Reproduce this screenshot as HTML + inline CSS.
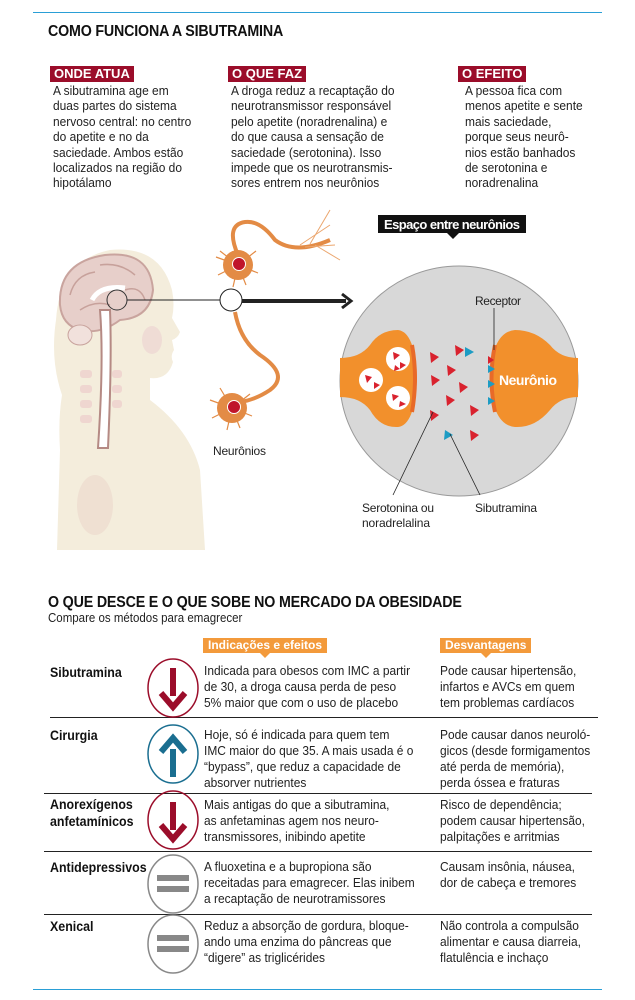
<!DOCTYPE html>
<html><head><meta charset="utf-8"><style>
body{margin:0;width:635px;height:1000px;background:#fff;position:relative;overflow:hidden;font-family:"Liberation Sans Narrow","Liberation Sans",sans-serif;color:#222}
.a{position:absolute;white-space:nowrap}
.n{transform:scaleX(0.92);transform-origin:0 0}
.t{font-size:13px;line-height:15.4px}
.h{font-weight:bold;font-size:15.5px;letter-spacing:-0.2px;color:#111}
.lab{position:absolute;background:#9b0d2a;color:#fff;font-weight:bold;font-size:13px;line-height:16px;padding:0 4px}
.ob{position:absolute;background:#f39a3b;color:#fff;font-weight:bold;font-size:12px;line-height:15px;padding:0 5px}
.ob:after{content:"";position:absolute;left:50%;bottom:-5px;margin-left:-5px;border-left:5px solid transparent;border-right:5px solid transparent;border-top:5px solid #f39a3b}
.rt{font-size:13px;line-height:16px}
.nm{font-weight:bold;font-size:13.5px;line-height:17px;color:#111}
.sep{position:absolute;left:50px;width:548px;height:1px;background:#222}
</style></head><body>
<div class="a" style="left:33px;top:12px;width:569px;height:1px;background:#2a9fd6"></div>
<div class="a h n" style="left:48px;top:23px">COMO FUNCIONA A SIBUTRAMINA</div>
<div class="lab" style="left:50px;top:66px">ONDE ATUA</div>
<div class="lab" style="left:228px;top:66px">O QUE FAZ</div>
<div class="lab" style="left:458px;top:66px">O EFEITO</div>
<div class="a t n" style="left:53px;top:83px">A sibutramina age em<br>duas partes do sistema<br>nervoso central: no centro<br>do apetite e no da<br>saciedade. Ambos estão<br>localizados na região do<br>hipotálamo</div>
<div class="a t n" style="left:231px;top:83px">A droga reduz a recaptação do<br>neurotransmissor responsável<br>pelo apetite (noradrenalina) e<br>do que causa a sensação de<br>saciedade (serotonina). Isso<br>impede que os neurotransmis-<br>sores entrem nos neurônios</div>
<div class="a t n" style="left:465px;top:83px">A pessoa fica com<br>menos apetite e sente<br>mais saciedade,<br>porque seus neurô-<br>nios estão banhados<br>de serotonina e<br>noradrenalina</div>

<svg class="a" style="left:0;top:200px" width="635" height="350" viewBox="0 200 635 350">
<path d="M57 550 L60 450 Q58 420 62 395 Q50 360 56 320 Q60 260 110 250 Q160 245 172 290 Q175 305 172 318 L180 332 Q178 338 172 340 L174 350 Q170 356 173 362 Q168 380 150 378 L150 400 Q190 430 200 470 L205 550 Z" fill="#f4eddc"/>
<ellipse cx="95" cy="505" rx="18" ry="30" fill="#efe0d2"/>
<ellipse cx="152" cy="340" rx="10" ry="14" fill="#efdcd5"/>
<path d="M60 305 Q58 262 105 255 Q150 250 153 290 Q150 318 120 320 Q100 335 80 330 Q62 325 60 305Z" fill="#e7cfca" stroke="#c9a49e" stroke-width="2"/>
<path d="M70 295 Q75 275 95 272 M100 265 Q120 262 135 275 M80 310 Q95 300 110 305 M125 290 Q140 285 145 300" stroke="#c7a19b" stroke-width="1.5" fill="none"/>
<path d="M92 300 Q100 285 125 288" stroke="#fff" stroke-width="5" fill="none"/>
<ellipse cx="80" cy="335" rx="12" ry="10" fill="#f1e1dc" stroke="#c9a49e"/>
<path d="M100 310 Q104 360 98 448 L108 448 Q112 360 110 310Z" fill="#fff" stroke="#b58a84" stroke-width="2"/>
<g fill="#efd6d0"><rect x="80" y="370" width="12" height="8" rx="3"/><rect x="80" y="385" width="12" height="8" rx="3"/><rect x="80" y="400" width="12" height="8" rx="3"/><rect x="80" y="415" width="12" height="8" rx="3"/><rect x="112" y="370" width="10" height="8" rx="3"/><rect x="112" y="385" width="10" height="8" rx="3"/><rect x="112" y="400" width="10" height="8" rx="3"/></g>
<circle cx="117" cy="300" r="10" fill="none" stroke="#333" stroke-width="1"/>
<line x1="127" y1="300" x2="220" y2="300" stroke="#222" stroke-width="1"/>
<path d="M238 255 Q225 225 245 222 Q260 220 275 240 Q295 255 330 240" stroke="#e38b45" stroke-width="4" fill="none"/>
<path d="M300 245 L330 225 M305 247 L335 245 M310 244 L330 210 M315 245 L340 260" stroke="#eba66e" stroke-width="1" fill="none"/>
<path d="M235 312 Q240 340 260 355 Q290 375 270 390 Q255 400 240 402" stroke="#e38b45" stroke-width="4" fill="none"/>
<g stroke="#e38b45" stroke-width="1.2">
<path d="M238 265 l-22 -8 M238 265 l-20 10 M238 265 l18 -14 M238 265 l20 8 M238 265 l-5 22 M238 265 l8 20 M238 265 l-18 -14"/>
<path d="M232 408 l-22 -8 M232 408 l-20 10 M232 408 l18 -14 M232 408 l20 8 M232 408 l-5 22 M232 408 l8 20 M232 408 l-12 -20"/></g>
<circle cx="238" cy="265" r="15" fill="#e38b45"/><circle cx="239" cy="264" r="6.5" fill="#c0152b" stroke="#fff" stroke-width="1"/>
<circle cx="232" cy="408" r="15" fill="#e38b45"/><circle cx="234" cy="407" r="6.5" fill="#c0152b" stroke="#fff" stroke-width="1"/>
<circle cx="231" cy="300" r="11" fill="#fff" stroke="#222" stroke-width="1"/>
<line x1="242" y1="301" x2="346" y2="301" stroke="#222" stroke-width="4"/>
<path d="M342 294 L351 301 L342 308" stroke="#222" stroke-width="3" fill="none"/>
<text x="213" y="455" font-size="12" fill="#222" textLength="53">Neurônios</text>
<ellipse cx="459" cy="381" rx="119" ry="115" fill="#d8d8d8" stroke="#999" stroke-width="1"/>
<path d="M340 358 Q360 358 370 345 Q380 330 398 330 Q415 332 417 378 Q415 425 398 427 Q380 428 370 410 Q360 397 340 397Z" fill="#f2902c"/>
<path d="M578 358 Q560 358 550 345 Q535 330 515 330 Q492 332 490 378 Q492 425 515 427 Q535 428 550 410 Q560 397 578 397Z" fill="#f2902c"/>
<path d="M412 345 Q418 378 412 412" stroke="#e86a28" stroke-width="4" fill="none"/>
<path d="M495 345 Q488 378 495 412" stroke="#e86a28" stroke-width="4" fill="none"/>
<g fill="#fff"><circle cx="398" cy="359" r="12"/><circle cx="371" cy="380" r="12"/><circle cx="398" cy="398" r="12"/></g>
<g fill="#d9222e">
<path d="M393 352l7 3-6 5z M400 362l6 3-6 4z M365 375l7 2-5 6z M374 382l6 3-6 4z M392 394l7 2-6 5z M400 401l6 3-7 3z M395 365l5 4-6 2z"/>
<path d="M455 345l9 5-8 6z M430 352l9 5-8 6z M447 365l9 5-8 6z M431 375l9 5-8 6z M459 382l9 5-8 6z M446 395l9 5-8 6z M430 410l9 5-8 6z M470 405l9 5-8 6z M470 430l9 5-8 6z M488 356l6 4-6 4z"/></g>
<g fill="#1d9cc4"><path d="M465 347l9 5-9 5z M488 365l7 4-7 4z M488 380l7 4-7 4z M488 397l7 4-7 4z M445 430l8 5-9 5z"/></g>
<text x="528" y="385" font-size="14" font-weight="bold" fill="#fff" text-anchor="middle" textLength="58">Neurônio</text>
<line x1="494" y1="308" x2="494" y2="350" stroke="#222" stroke-width="0.8"/>
<text x="475" y="305" font-size="12" fill="#222" textLength="46">Receptor</text>
<line x1="393" y1="495" x2="433" y2="412" stroke="#222" stroke-width="0.8"/>
<line x1="480" y1="495" x2="450" y2="434" stroke="#222" stroke-width="0.8"/>
<text x="362" y="512" font-size="12" fill="#222" textLength="72">Serotonina ou</text>
<text x="362" y="527" font-size="12" fill="#222" textLength="68">noradrelalina</text>
<text x="475" y="512" font-size="12" fill="#222" textLength="62">Sibutramina</text>
<rect x="378" y="215" width="148" height="18" fill="#111"/>
<path d="M447 233 L453 239 L459 233Z" fill="#111"/>
<text x="452" y="229" font-size="13" font-weight="bold" fill="#fff" text-anchor="middle" textLength="136">Espaço entre neurônios</text>
</svg>

<div class="a h n" style="left:48px;top:594px">O QUE DESCE E O QUE SOBE NO MERCADO DA OBESIDADE</div>
<div class="a n" style="left:48px;top:611px;font-size:12.5px">Compare os métodos para emagrecer</div>
<div class="ob" style="left:203px;top:638px">Indicações e efeitos</div>
<div class="ob" style="left:440px;top:638px">Desvantagens</div>

<div class="a nm n" style="left:50px;top:664px">Sibutramina</div>
<div class="a rt n" style="left:204px;top:663px">Indicada para obesos com IMC a partir<br>de 30, a droga causa perda de peso<br>5% maior que com o uso de placebo</div>
<div class="a rt n" style="left:440px;top:663px">Pode causar hipertensão,<br>infartos e AVCs em quem<br>tem problemas cardíacos</div>
<div class="sep" style="top:717px"></div>
<div class="a nm n" style="left:50px;top:727px">Cirurgia</div>
<div class="a rt n" style="left:204px;top:727px">Hoje, só é indicada para quem tem<br>IMC maior do que 35. A mais usada é o<br>“bypass”, que reduz a capacidade de<br>absorver nutrientes</div>
<div class="a rt n" style="left:440px;top:727px">Pode causar danos neuroló-<br>gicos (desde formigamentos<br>até perda de memória),<br>perda óssea e fraturas</div>
<div class="sep" style="top:793px;left:44px;width:548px"></div>
<div class="a nm n" style="left:50px;top:796px">Anorexígenos<br>anfetamínicos</div>
<div class="a rt n" style="left:204px;top:797px">Mais antigas do que a sibutramina,<br>as anfetaminas agem nos neuro-<br>transmissores, inibindo apetite</div>
<div class="a rt n" style="left:440px;top:797px">Risco de dependência;<br>podem causar hipertensão,<br>palpitações e arritmias</div>
<div class="sep" style="top:851px;left:44px;width:548px"></div>
<div class="a nm n" style="left:50px;top:859px">Antidepressivos</div>
<div class="a rt n" style="left:204px;top:859px">A fluoxetina e a bupropiona são<br>receitadas para emagrecer. Elas inibem<br>a recaptação de neurotramissores</div>
<div class="a rt n" style="left:440px;top:859px">Causam insônia, náusea,<br>dor de cabeça e tremores</div>
<div class="sep" style="top:914px;left:44px;width:548px"></div>
<div class="a nm n" style="left:50px;top:918px">Xenical</div>
<div class="a rt n" style="left:204px;top:918px">Reduz a absorção de gordura, bloque-<br>ando uma enzima do pâncreas que<br>“digere” as triglicérides</div>
<div class="a rt n" style="left:440px;top:918px">Não controla a compulsão<br>alimentar e causa diarreia,<br>flatulência e inchaço</div>

<svg class="a" style="left:0;top:0" width="635" height="1000">
<g fill="none" stroke-width="1.5">
<ellipse cx="173" cy="688" rx="25" ry="29" stroke="#9b0d2a"/>
<ellipse cx="173" cy="754" rx="25" ry="29" stroke="#1a6e90"/>
<ellipse cx="173" cy="820" rx="25" ry="29" stroke="#9b0d2a"/>
<ellipse cx="173" cy="884" rx="25" ry="29" stroke="#888"/>
<ellipse cx="173" cy="944" rx="25" ry="29" stroke="#888"/></g>
<rect x="170" y="668" width="6" height="28" fill="#9b0d2a"/><path d="M161 693 L173 707 L185 693" stroke="#9b0d2a" stroke-width="6" fill="none"/>
<rect x="170" y="749" width="6" height="28" fill="#1a6e90"/><path d="M161 752 L173 738 L185 752" stroke="#1a6e90" stroke-width="6" fill="none"/>
<rect x="170" y="802" width="6" height="28" fill="#9b0d2a"/><path d="M161 825 L173 839 L185 825" stroke="#9b0d2a" stroke-width="6" fill="none"/>
<rect x="157" y="875" width="32" height="6" fill="#888"/><rect x="157" y="886" width="32" height="6" fill="#888"/>
<rect x="157" y="935" width="32" height="6" fill="#888"/><rect x="157" y="946" width="32" height="6" fill="#888"/>
</svg>
<div class="a" style="left:33px;top:989px;width:569px;height:1px;background:#2a9fd6"></div>
</body></html>
